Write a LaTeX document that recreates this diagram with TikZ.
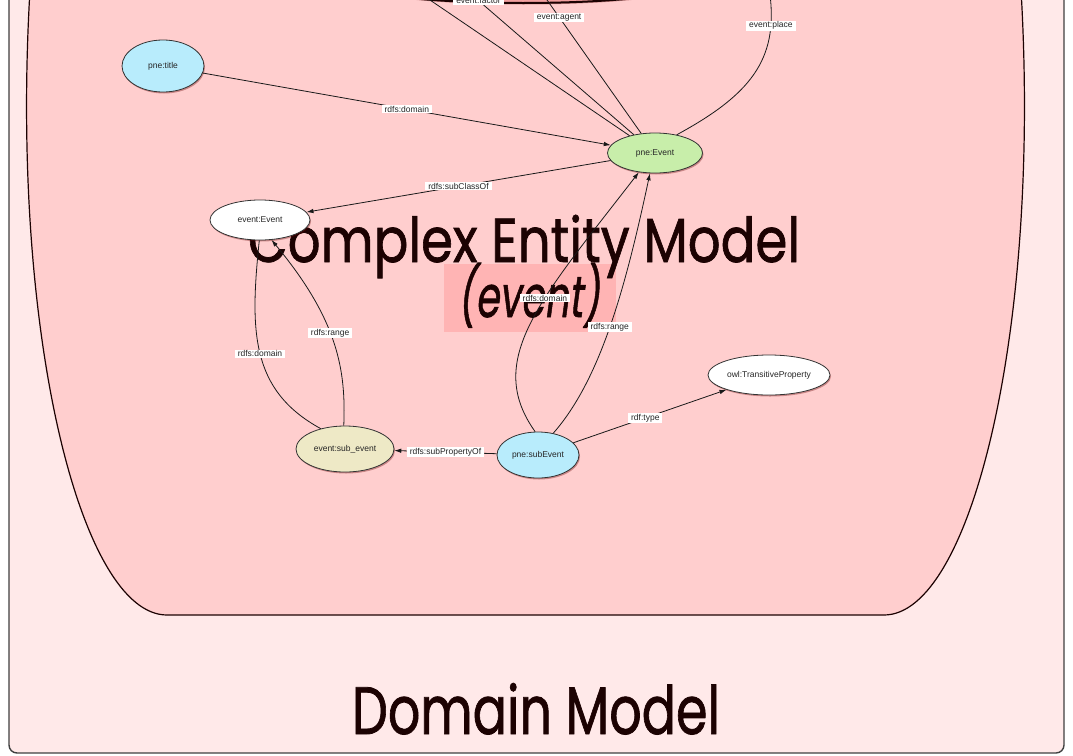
\documentclass[tikz,border=0pt]{standalone}
\usepackage{fontspec}
\usepackage{graphicx}
\usetikzlibrary{shapes.geometric,shadows,arrows.meta}
\newfontfamily\nodefont{Liberation Sans}
\newfontfamily\bigfont{Poppins}[AutoFakeSlant=0.2,FakeBold=1.2]
\definecolor{framepink}{HTML}{FFE9E9}
\definecolor{modelpink}{HTML}{FFCECE}
\definecolor{tagpink}{HTML}{FFB4B4}
\definecolor{hiddenred}{HTML}{F2A0A0}
\definecolor{skyblue}{HTML}{B8ECFC}
\definecolor{leafgreen}{HTML}{C8EEAA}
\definecolor{sandbeige}{HTML}{EEE9C6}
\definecolor{inkbrown}{HTML}{1C0202}
\tikzset{
  term/.style={ellipse,draw=black!80,line width=0.8pt,inner sep=0pt,
    font=\nodefont\fontsize{8.5}{10}\selectfont,text=black!85,
    drop shadow={shadow xshift=1pt,shadow yshift=-1.5pt,fill=red!40!black,opacity=0.35}},
  lbl/.style={fill=white,inner sep=1pt,inner xsep=3pt,
    font=\nodefont\fontsize{8.5}{9}\selectfont,text=black!85},
  rel/.style={draw=black!90,line width=0.8pt},
  bigtext/.style={inner sep=0pt,anchor=base,text=inkbrown,font=\bigfont},
  >={Latex[length=7pt,width=4.5pt]}
}
\begin{document}
\begin{tikzpicture}[x=1pt,y=-1pt]
\useasboundingbox (0,0) rectangle (1073,755);
\clip (0,0) rectangle (1073,755);
\fill[white] (0,0) rectangle (1073,755);
\draw[draw=black!75,fill=framepink,line width=1.4pt,rounded corners=8pt] (9,-30) rectangle (1064,753);
\draw[draw=inkbrown,fill=modelpink,line width=1.2pt] (30,-40) -- (30,-10)
  .. controls (10,330) and (80,615) .. (167,615) -- (884,615)
  .. controls (971,615) and (1041,330) .. (1021,-10) -- (1021,-40) -- cycle;
\fill[tagpink] (444,264) rectangle (616,332);
\node[bigtext] (cemtitle) at (524,262) {\fontsize{62}{62}\selectfont\resizebox{552pt}{\height}{Complex Entity Model}};
\node[bigtext] (cemsub) at (529,317) {\fontsize{58}{58}\selectfont\itshape\resizebox{142pt}{\height}{(event)}};
\node[bigtext] (dmtitle) at (536,734) {\fontsize{67}{67}\selectfont\resizebox{368pt}{\height}{Domain Model}};

\node[term,fill=hiddenred,draw=inkbrown,line width=2pt,minimum width=340pt,minimum height=40pt] (hiddenterm) at (523,-17) {};
\node[term,fill=skyblue,minimum width=82pt,minimum height=52pt] (pnetitle) at (163,66) {pne:title};
\node[term,fill=leafgreen,minimum width=95pt,minimum height=40pt] (pneevent) at (655,153) {pne:Event};
\node[term,fill=white,minimum width=100pt,minimum height=40pt] (eventevent) at (260,220) {event:Event};
\node[term,fill=sandbeige,minimum width=98pt,minimum height=46pt] (subevent) at (345,449) {event:sub\_event};
\node[term,fill=skyblue,minimum width=82pt,minimum height=46pt] (pnesubevent) at (538,455) {pne:subEvent};
\node[term,fill=white,minimum width=122pt,minimum height=40pt] (transitive) at (769,375) {owl:TransitiveProperty};

\coordinate (upa) at (422.6,-5);
\coordinate (upb) at (472,-5);
\coordinate (upc) at (543.5,-5);
\coordinate (upd) at (770,-5);

\draw[rel] (pneevent) -- (upa);
\draw[rel] (pneevent) -- node[lbl,pos=0.96]{event:factor} (upb);
\draw[rel] (pneevent) -- node[lbl,pos=0.84]{event:agent} (upc);
\draw[rel] (pneevent.40) .. controls (750,95) and (778,60) .. node[lbl,pos=0.83]{event:place} (upd);
\draw[rel,->] (pnetitle) -- node[lbl]{rdfs:domain} (pneevent);
\draw[rel,->] (pneevent) -- node[lbl]{rdfs:subClassOf} (eventevent);
\draw[rel,->] (subevent.93) .. controls (346,370) and (338,320) .. node[lbl,pos=0.55]{rdfs:range} (eventevent.-60);
\draw[rel] (eventevent.-92) .. controls (250,330) and (250,390) .. node[lbl]{rdfs:domain} (subevent.140);
\draw[rel,->] (pnesubevent.97) .. controls (484,360) and (540,300) .. node[lbl,pos=0.6]{rdfs:domain} (pneevent.-130);
\draw[rel,->] (pnesubevent.55) .. controls (600,380) and (625,290) .. node[lbl,pos=0.5]{rdfs:range} (pneevent.-104);
\draw[rel,->] (pnesubevent) -- node[lbl]{rdfs:subPropertyOf} (subevent);
\draw[rel,->] (pnesubevent) -- node[lbl,pos=0.47]{rdf:type} (transitive);
\end{tikzpicture}
\end{document}
